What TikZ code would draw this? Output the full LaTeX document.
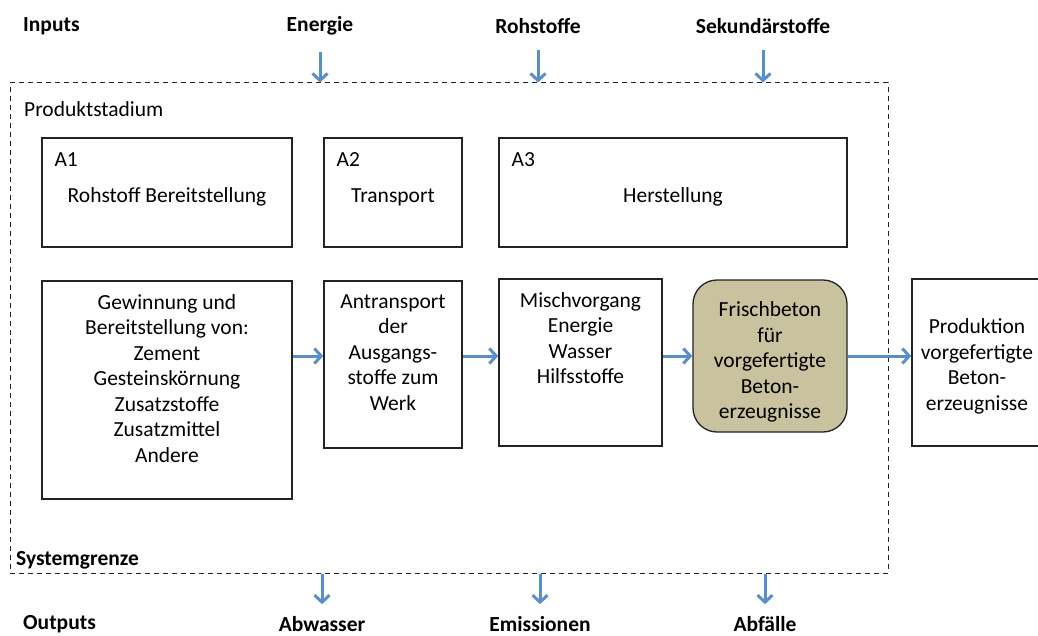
\documentclass[tikz,border=0pt]{standalone}
\usepackage{fontspec}
\setmainfont{Carlito}
\usetikzlibrary{arrows.meta}

\definecolor{flowblue}{RGB}{90,142,200}
\definecolor{frametone}{RGB}{35,35,35}
\definecolor{betontan}{RGB}{201,194,159}
\newcommand{\diagfont}[0]{\fontsize{21.5}{25.5}\selectfont}

\tikzstyle{flow} = [-{Straight Barb[length=7pt,width=15pt]},line width=3pt,draw=flowblue]
\tikzstyle{txt}=[
  inner sep=0pt,
  align=center,
  font=\diagfont,
]
\tikzstyle{head}=[
  txt,
  font=\diagfont\bfseries,
]
\tikzstyle{stage}=[
  rectangle,
  draw=frametone,
  line width=1.3pt,
  align=center,
  font=\diagfont,
]
\tikzstyle{module}=[
  stage,
  minimum height=109pt,
  text height=24pt,
  text depth=4pt,
]
\tikzstyle{product}=[
  stage,
  rounded corners=24pt,
  fill=betontan,
]
\tikzstyle{boundary}=[
  rectangle,
  draw=frametone,
  line width=1pt,
  dash pattern=on 5pt off 4pt,
]

\begin{document}
\begin{tikzpicture}[x=1pt,y=-1pt]
  \useasboundingbox (0,0) rectangle (1038,636);
  \clip (0,0) rectangle (1038,636);

  % system boundary
  \node[boundary, minimum width=878pt, minimum height=490pt] (sys) at (449,328) {};
  \node[txt, anchor=west] (stadium) at (24,109) {Produktstadium};
  \node[head, anchor=west] (grenze) at (16,560) {Systemgrenze};

  % inputs
  \node[head, anchor=west] (inputs) at (23,26) {Inputs};
  \node[head] (energie) at (320,26) {Energie};
  \node[head] (rohstoffe) at (538,26) {Rohstoffe};
  \node[head] (sekundaer) at (763,26) {Sekundärstoffe};
  \draw[flow] ([yshift=-16pt]energie.south) -- (energie.south |- sys.north);
  \draw[flow] ([yshift=-16pt]rohstoffe.south) -- (rohstoffe.south |- sys.north);
  \draw[flow] ([yshift=-16pt]sekundaer.south) -- (sekundaer.south |- sys.north);

  % modules A1-A3
  \node[module, minimum width=250pt] (a1) at (167,192.5) {Rohstoff Bereitstellung};
  \node[module, minimum width=138pt] (a2) at ([xshift=226pt] a1.center) {Transport};
  \node[module, minimum width=348pt] (a3) at ([xshift=280pt] a2.center) {Herstellung};
  \node[txt, anchor=north west] (a1tag) at ([xshift=13pt,yshift=-15pt] a1.north west) {A1};
  \node[txt, anchor=north west] (a2tag) at ([xshift=13pt,yshift=-15pt] a2.north west) {A2};
  \node[txt, anchor=north west] (a3tag) at ([xshift=13pt,yshift=-15pt] a3.north west) {A3};

  % process chain
  \node[stage, minimum width=250pt, minimum height=218pt] (gew) at (167,390) {};
  \node[txt, anchor=north] (gewtext) at ([yshift=-14pt] gew.north) {Gewinnung und\\Bereitstellung von:\\Zement\\Gesteinskörnung\\Zusatzstoffe\\Zusatzmittel\\Andere};
  \node[stage, minimum width=138pt, minimum height=167pt] (ant) at (393,364.5) {};
  \node[txt, anchor=north] (anttext) at ([yshift=-14pt] ant.north) {Antransport\\der\\Ausgangs-\\stoffe zum\\Werk};
  \node[stage, minimum width=163pt, minimum height=167pt] (misch) at (580.5,362.5) {};
  \node[txt, anchor=north] (mischtext) at ([yshift=-14pt] misch.north) {Mischvorgang\\Energie\\Wasser\\Hilfsstoffe};
  \node[product, minimum width=154pt, minimum height=152pt] (frisch) at (770,356) {};
  \node[txt] (frischtext) at ([yshift=-6pt] frisch.center) {Frischbeton\\für\\vorgefertigte\\Beton-\\erzeugnisse};
  \node[stage, minimum width=130pt, minimum height=167pt] (prod) at (977,362.5) {};
  \node[txt] (prodtext) at ([yshift=-4pt] prod.center) {Produktion\\vorgefertigte\\Beton-\\erzeugnisse};
  \draw[flow] (gew.east |- frisch.west) -- (ant.west |- frisch.west);
  \draw[flow] (ant.east |- frisch.west) -- (misch.west |- frisch.west);
  \draw[flow] (misch.east |- frisch.west) -- (frisch.west);
  \draw[flow] (frisch.east) -- (prod.west |- frisch.east);

  % outputs
  \node[head, anchor=west] (outputs) at (23,624) {Outputs};
  \node[head] (abwasser) at (322,624) {Abwasser};
  \node[head] (emission) at (540,624) {Emissionen};
  \node[head] (abfall) at (765,624) {Abfälle};
  \draw[flow] (abwasser.north |- sys.south) -- ([yshift=12pt] abwasser.north);
  \draw[flow] (emission.north |- sys.south) -- ([yshift=12pt] emission.north);
  \draw[flow] (abfall.north |- sys.south) -- ([yshift=12pt] abfall.north);
\end{tikzpicture}
\end{document}
